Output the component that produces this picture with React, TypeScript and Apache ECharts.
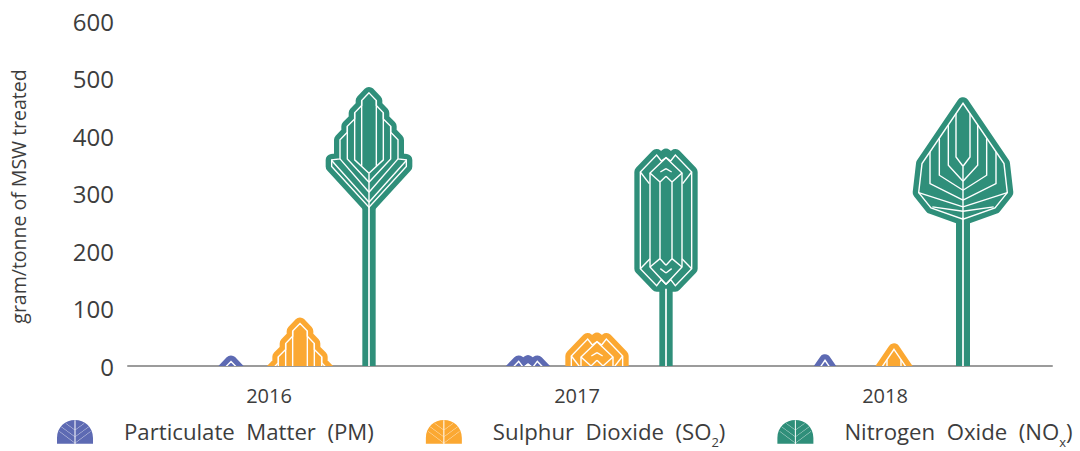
import React, { useEffect, useRef } from "react";
import * as echarts from "echarts";

const categories = ["2016", "2017", "2018"];
const yTicks = [0, 100, 200, 300, 400, 500, 600];
const pmName = "Particulate Matter (PM)";
const so2Name = "Sulphur Dioxide (SO2)";
const noxName = "Nitrogen Oxide (NOx)";
const pmValues = [19, 19, 21];
const so2Values = [85, 58, 40];
const noxValues = [486, 378, 468];

const BLUE = "#5d6ab3";
const ORANGE = "#fba832";
const GREEN = "#2f8f7a";
const FONT = '"Open Sans", "Noto Sans", sans-serif';

type Pt = [number, number];
interface Leaf {
  outline: Pt[];
  silhouette?: Pt[];
  veins: Pt[][];
  centerVeins?: Pt[][];
  stemHalf: number;
  stemStart: number;
}

// Leaf drawings for each year; units are thirds of a pixel, right half only, measured from the tip.
const leafShapes: Leaf[] = [
  {
    outline: [[0, 19], [22, 42], [22, 57], [43, 79], [43, 97], [65, 119], [65, 137], [87, 160], [87, 217], [112, 220], [112, 240], [0, 362]],
    veins: [
      [[22, 42], [22, 238]],
      [[43, 79], [43, 220], [0, 260]],
      [[65, 119], [65, 217], [0, 287]],
      [[87, 217], [0, 317]],
      [[112, 222], [0, 347]],
    ],
    centerVeins: [[[0, 260], [0, 362]]],
    stemHalf: 20,
    stemStart: 358,
  },
  {
    outline: [[0, 27], [14, 37], [28, 19], [77, 70], [77, 360], [28, 411], [14, 393], [0, 407]],
    silhouette: [[0, 18], [15, 30], [28, 19], [77, 70], [77, 360], [28, 411], [0, 411]],
    veins: [
      [[0, 27], [48, 73], [48, 355], [0, 407]],
      [[0, 83], [18, 100], [18, 330], [0, 350]],
      [[77, 70], [50, 105]],
      [[48, 73], [18, 100]],
      [[48, 355], [18, 330]],
      [[77, 360], [48, 330]],
      [[0, 60], [17, 70]],
      [[0, 373], [17, 360]],
    ],
    stemHalf: 20,
    stemStart: 420,
  },
  {
    outline: [[0, 19], [123, 200], [133, 287], [96, 333], [0, 367]],
    veins: [
      [[21, 50], [21, 180], [0, 208]],
      [[44, 84], [44, 205], [0, 253]],
      [[71, 124], [71, 235], [0, 280]],
      [[99, 165], [99, 260], [0, 310]],
      [[133, 287], [0, 330]],
      [[92, 330], [0, 343]],
    ],
    centerVeins: [[[0, 208], [0, 367]]],
    stemHalf: 21,
    stemStart: 362,
  },
];

const UNIT = 1 / 3;
const BAR_STEP_FRACTION = 69 / 297;

function closedHalf(half: Pt[]): Pt[] {
  const left = half.slice().reverse().map(([x, y]) => [-x, y] as Pt);
  const out = half.slice();
  const merged = left[0][0] === 0 ? left.slice(1) : left;
  const last = merged[merged.length - 1];
  return out.concat(last[0] === 0 ? merged.slice(0, -1) : merged);
}

function makeRenderItem(slot: number, color: string) {
  return (_params: any, api: any) => {
    const idx = api.value(0);
    const pos = api.coord([idx, api.value(1)]);
    const band = api.size([1, 0])[0];
    const cx = pos[0] + slot * band * BAR_STEP_FRACTION;
    const topY = pos[1];
    const leaf = leafShapes[idx];
    const map = (p: Pt, side: number) => [cx + side * p[0] * UNIT, topY + p[1] * UNIT];
    const whiteStyle = { fill: null, stroke: "#ffffff", lineWidth: 1.4, lineJoin: "miter" };
    const children: any[] = [];
    children.push({
      type: "rect",
      shape: { x: cx - leaf.stemHalf * UNIT, y: topY + leaf.stemStart * UNIT, width: leaf.stemHalf * 2 * UNIT, height: 600 },
      style: { fill: color },
    });
    children.push({
      type: "polygon",
      shape: { points: closedHalf(leaf.silhouette || leaf.outline).map((p) => map(p, 1)) },
      style: { fill: color, stroke: color, lineWidth: 12, lineJoin: "round" },
    });
    children.push({
      type: "polygon",
      shape: { points: closedHalf(leaf.outline).map((p) => map(p, 1)) },
      style: whiteStyle,
    });
    for (const vein of leaf.veins) {
      for (const side of [1, -1]) {
        children.push({ type: "polyline", shape: { points: vein.map((p) => map(p, side)) }, style: whiteStyle });
      }
    }
    for (const vein of leaf.centerVeins || []) {
      children.push({ type: "polyline", shape: { points: vein.map((p) => map(p, 1)) }, style: whiteStyle });
    }
    children.push({
      type: "rect",
      shape: { x: cx - 0.85, y: topY + leaf.stemStart * UNIT, width: 1.7, height: 600 },
      style: { fill: "#ffffff" },
    });
    return { type: "group", children };
  };
}

function sliver(x1: number, y1: number, x2: number, y2: number, w: number) {
  const dx = x2 - x1;
  const dy = y2 - y1;
  const len = Math.hypot(dx, dy);
  const nx = (-dy / len) * (w / 2);
  const ny = (dx / len) * (w / 2);
  let pts = [
    [x1 + nx, y1 + ny],
    [x2 + nx, y2 + ny],
    [x2 - nx, y2 - ny],
    [x1 - nx, y1 - ny],
  ];
  let area = 0;
  for (let i = 0; i < 4; i++) {
    const a = pts[i];
    const b = pts[(i + 1) % 4];
    area += a[0] * b[1] - b[0] * a[1];
  }
  if (area > 0) pts = pts.reverse();
  return "M" + pts.map((p) => p[0].toFixed(2) + " " + p[1].toFixed(2)).join("L") + "Z";
}

const legendVeins: number[][] = [
  [30, 27],
  [50, 40],
  [68, 46],
];

function legendIconPath() {
  let d = "path://M0 70L0 53C0 20 25 0 53 0C81 0 106 20 106 53L106 70Z";
  d += sliver(53, 1, 53, 70, 3);
  for (const [y, reach] of legendVeins) {
    d += sliver(55, y - 1.5, 53 + reach, y - reach * 0.75, 1);
    d += sliver(51, y - 1.5, 53 - reach, y - reach * 0.75, 1);
  }
  return d;
}

function makeOption(): any {
  const icon = legendIconPath();
  const bars = [
    { name: pmName, values: pmValues, color: BLUE, slot: -1 },
    { name: so2Name, values: so2Values, color: ORANGE, slot: 0 },
    { name: noxName, values: noxValues, color: GREEN, slot: 1 },
  ];
  const textColor = "#3d3d3d";
  return {
    animation: false,
    backgroundColor: "#ffffff",
    grid: [
      { left: 128, right: 28, top: 21, bottom: 85 },
      { left: 151.5, width: 891, top: 21, bottom: 85 },
    ],
    legend: {
      left: 57,
      top: 420,
      padding: 0,
      itemWidth: 36,
      itemHeight: 24,
      itemGap: 52,
      selectedMode: false,
      data: bars.map((b) => ({ name: b.name, icon })),
      formatter: (name: string) => {
        if (name === pmName) return "{n|Particulate  Matter  (PM)}";
        if (name === so2Name) return "{n|Sulphur  Dioxide  (SO}{s|2}{n|)}";
        return "{n|Nitrogen  Oxide  (NO}{s|x}{n|)}";
      },
      textStyle: {
        padding: [0, 0, 0, 26],
        rich: {
          n: { fontFamily: FONT, fontSize: 22.2, color: textColor, lineHeight: 34 },
          s: { fontFamily: FONT, fontSize: 13, color: textColor, lineHeight: 34, verticalAlign: "bottom" },
        },
      },
    },
    xAxis: [
      {
        type: "category",
        gridIndex: 0,
        data: categories,
        axisLine: { show: true, onZero: false, lineStyle: { color: "#9b9b9b", width: 2 } },
        axisTick: { show: false },
        axisLabel: { margin: 19, fontFamily: FONT, fontSize: 20, color: textColor, padding: [0, 26, 0, 0] },
      },
      { type: "category", gridIndex: 1, data: categories, show: false },
    ],
    yAxis: [
      {
        type: "value",
        gridIndex: 0,
        min: 0,
        max: 600,
        interval: 100,
        name: "gram/tonne of MSW treated",
        nameLocation: "middle",
        nameGap: 100,
        nameTextStyle: { fontFamily: FONT, fontSize: 19.5, color: textColor, padding: [0, 6, 0, 0] },
        axisLine: { show: false },
        axisTick: { show: false },
        splitLine: { show: false },
        axisLabel: {
          margin: 14,
          fontFamily: FONT,
          fontSize: 24,
          color: textColor,
          formatter: (v: number) => (yTicks.includes(v) ? String(v) : ""),
        },
      },
      { type: "value", gridIndex: 1, min: 0, max: 600, interval: 100, show: false },
    ],
    series: bars.map((b) => ({
      type: "custom",
      name: b.name,
      xAxisIndex: 1,
      yAxisIndex: 1,
      clip: true,
      silent: true,
      itemStyle: { color: b.color },
      encode: { x: 0, y: 1 },
      data: categories.map((c, i) => [c, b.values[i]]),
      renderItem: makeRenderItem(b.slot, b.color),
    })),
  };
}

export default function App() {
  const ref = useRef<HTMLDivElement | null>(null);
  useEffect(() => {
    const chart = echarts.init(ref.current as HTMLDivElement, undefined, { renderer: "svg" });
    chart.setOption(makeOption());
    return () => chart.dispose();
  }, []);
  return <div ref={ref} style={{ position: "fixed", left: 0, top: 0, width: 1080, height: 451 }} />;
}
